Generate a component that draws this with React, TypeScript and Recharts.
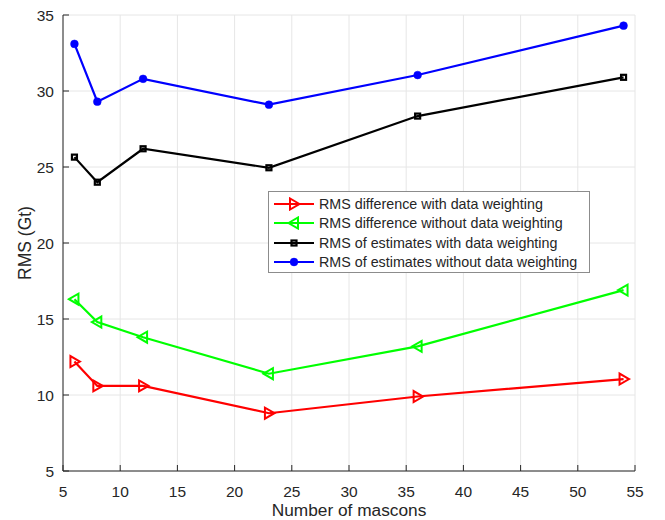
import { CartesianGrid, Legend, Line, LineChart, XAxis, YAxis } from "recharts";

// number of mascons on the x axis
const MASCONS = [6, 8, 12, 23, 36, 54];

// RMS values (Gt) for each mascon count
const DIFF_WEIGHTED = [12.2, 10.6, 10.6, 8.8, 9.9, 11.05];
const DIFF_UNWEIGHTED = [16.3, 14.8, 13.8, 11.4, 13.2, 16.9];
const EST_WEIGHTED = [25.65, 24.0, 26.2, 24.95, 28.35, 30.9];
const EST_UNWEIGHTED = [33.1, 29.3, 30.8, 29.1, 31.05, 34.3];

const X_TICKS = [5, 10, 15, 20, 25, 30, 35, 40, 45, 50, 55];
const Y_TICKS = [5, 10, 15, 20, 25, 30, 35];

const FONT = "'Liberation Sans', Arial, Helvetica, sans-serif";
const INK = "#262626";
const GRID = "#e6e6e6";

type MarkerKind = "right" | "left" | "square" | "circle";

const SERIES: { key: string; name: string; color: string; marker: MarkerKind; values: number[] }[] = [
  { key: "diffW", name: "RMS difference with data weighting", color: "#ff0000", marker: "right", values: DIFF_WEIGHTED },
  { key: "diffU", name: "RMS difference without data weighting", color: "#00ff00", marker: "left", values: DIFF_UNWEIGHTED },
  { key: "estW", name: "RMS of estimates with data weighting", color: "#000000", marker: "square", values: EST_WEIGHTED },
  { key: "estU", name: "RMS of estimates without data weighting", color: "#0000ff", marker: "circle", values: EST_UNWEIGHTED },
];

const rows = MASCONS.map((m, i) => {
  const row: Record<string, number> = { m };
  SERIES.forEach((s) => (row[s.key] = s.values[i]));
  return row;
});

function Marker({ kind, cx, cy, color }: { kind: MarkerKind; cx: number; cy: number; color: string }) {
  if (kind === "right") {
    return (
      <polygon
        points={`${cx + 5.5},${cy} ${cx - 4},${cy - 5.5} ${cx - 4},${cy + 5.5}`}
        fill="none"
        stroke={color}
        strokeWidth={2}
      />
    );
  }
  if (kind === "left") {
    return (
      <polygon
        points={`${cx - 5.5},${cy} ${cx + 4},${cy - 5.5} ${cx + 4},${cy + 5.5}`}
        fill="none"
        stroke={color}
        strokeWidth={2}
      />
    );
  }
  if (kind === "square") {
    return <rect x={cx - 2.5} y={cy - 2.5} width={5} height={5} fill="none" stroke={color} strokeWidth={2.2} />;
  }
  return <circle cx={cx} cy={cy} r={3.9} fill={color} stroke={color} strokeWidth={0.5} />;
}

function BottomTick({ x, y, payload }: any) {
  return (
    <g>
      <line x1={x} x2={x} y1={y} y2={y - 6} stroke={INK} />
      <text x={x} y={y + 26} textAnchor="middle" fontSize={15.5} fontFamily={FONT} fill={INK}>
        {payload.value}
      </text>
    </g>
  );
}

function TopTick({ x, y }: any) {
  return <line x1={x} x2={x} y1={y} y2={y + 6} stroke={INK} />;
}

function LeftTick({ x, y, payload }: any) {
  return (
    <g>
      <line x1={x} x2={x + 6} y1={y} y2={y} stroke={INK} />
      <text x={x - 9} y={y + 5.5} textAnchor="end" fontSize={15.5} fontFamily={FONT} fill={INK}>
        {payload.value}
      </text>
    </g>
  );
}

function RightTick({ x, y }: any) {
  return <line x1={x} x2={x - 6} y1={y} y2={y} stroke={INK} />;
}

function XTitle({ viewBox }: any) {
  return (
    <text
      x={viewBox.x + viewBox.width / 2}
      y={viewBox.y + 45}
      textAnchor="middle"
      fontSize={17.3}
      fontFamily={FONT}
      fill={INK}
    >
      Number of mascons
    </text>
  );
}

function YTitle({ viewBox }: any) {
  const cx = viewBox.x + 25;
  const cy = viewBox.y + viewBox.height / 2;
  return (
    <text
      x={cx}
      y={cy}
      transform={`rotate(-90 ${cx} ${cy})`}
      textAnchor="middle"
      dominantBaseline="central"
      fontSize={17.5}
      fontFamily={FONT}
      fill={INK}
    >
      RMS (Gt)
    </text>
  );
}

function LegendBox() {
  return (
    <div
      style={{
        boxSizing: "border-box",
        width: 322,
        height: 82,
        paddingTop: 2,
        border: "1px solid #8c8c8c",
        background: "#fff",
        fontFamily: FONT,
        fontSize: 14.3,
        color: INK,
      }}
    >
      {SERIES.map((s) => (
        <div key={s.key} style={{ display: "flex", alignItems: "center", height: 19.5, whiteSpace: "nowrap" }}>
          <svg width={50} height={14} style={{ flex: "none" }}>
            <line x1={5} x2={45} y1={7} y2={7} stroke={s.color} strokeWidth={2.2} />
            <Marker kind={s.marker} cx={25} cy={7} color={s.color} />
          </svg>
          <span>{s.name}</span>
        </div>
      ))}
    </div>
  );
}

export default function App() {
  return (
    <div style={{ position: "absolute", left: 0, top: 0, width: 665, height: 520, background: "#fff" }}>
      <LineChart width={665} height={520} data={rows} margin={{ top: 15, right: 30, bottom: 0, left: 0 }}>
        <CartesianGrid stroke={GRID} strokeWidth={1} />
        <XAxis
          dataKey="m"
          type="number"
          domain={[5, 55]}
          ticks={X_TICKS}
          interval={0}
          height={49}
          tickSize={0}
          tickMargin={0}
          tick={<BottomTick />}
          axisLine={{ stroke: INK }}
          label={<XTitle />}
        />
        <XAxis
          xAxisId="top"
          orientation="top"
          type="number"
          domain={[5, 55]}
          ticks={X_TICKS}
          interval={0}
          height={0}
          tickSize={0}
          tickMargin={0}
          tick={<TopTick />}
          axisLine={{ stroke: INK }}
        />
        <YAxis
          type="number"
          domain={[5, 35]}
          ticks={Y_TICKS}
          interval={0}
          width={63}
          tickSize={0}
          tickMargin={0}
          tick={<LeftTick />}
          axisLine={{ stroke: INK }}
          label={<YTitle />}
        />
        <YAxis
          yAxisId="right"
          orientation="right"
          type="number"
          domain={[5, 35]}
          ticks={Y_TICKS}
          interval={0}
          width={0}
          tickSize={0}
          tickMargin={0}
          tick={<RightTick />}
          axisLine={{ stroke: INK }}
        />
        {SERIES.map((s) => (
          <Line
            key={s.key}
            type="linear"
            dataKey={s.key}
            name={s.name}
            stroke={s.color}
            strokeWidth={2.2}
            isAnimationActive={false}
            dot={(p: any) => <Marker key={`${s.key}-${p.index}`} kind={s.marker} cx={p.cx} cy={p.cy} color={s.color} />}
            activeDot={false}
          />
        ))}
        <Legend
          layout="vertical"
          align="center"
          verticalAlign="middle"
          wrapperStyle={{ left: 268, top: 191, width: 322, height: 82 }}
          content={() => <LegendBox />}
        />
      </LineChart>
    </div>
  );
}
